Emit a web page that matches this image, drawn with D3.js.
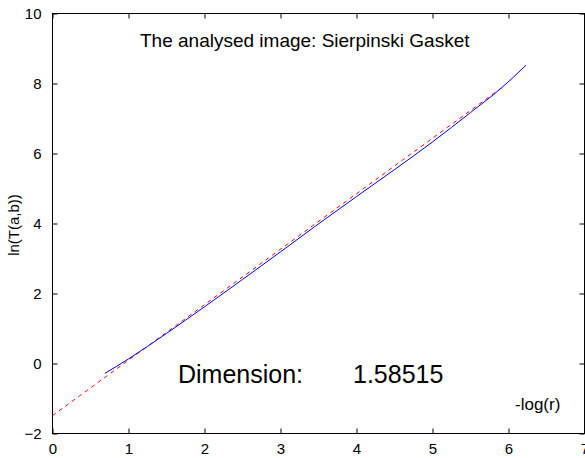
<!DOCTYPE html>
<html><head><meta charset="utf-8">
<script src="https://cdn.jsdelivr.net/npm/d3@7"></script>
<style>body{margin:0;background:#fff}svg{display:block}text{font-family:Arial,"Liberation Sans",sans-serif;fill:#000}</style>
</head><body>
<script>
const xTicks = [0,1,2,3,4,5,6,7];
const yTicks = [-2,0,2,4,6,8,10];
// measured curve: -log(r) vs ln(T(a,b))
const logR = [0.69,1.0,1.5,2.0,2.5,3.0,3.5,4.0,4.5,5.0,5.5,5.9,6.23];
const lnT  = [-0.28,0.13,0.86,1.62,2.40,3.19,3.99,4.77,5.54,6.33,7.17,7.86,8.52];
// fitted line
const slope = 1.58515;
const intercept = -1.49;
const fitX = [0, 5.94];
const titleText = "The analysed image: Sierpinski Gasket";
const dimLabel = "Dimension:";
const dimValue = "1.58515";

const W=585,H=458;
const svg=d3.select("body").append("svg").attr("width",W).attr("height",H);
const x=d3.scaleLinear().domain([0,7]).range([52.5,584.5]);
const y=d3.scaleLinear().domain([-2,10]).range([433.5,13.5]);

const g=svg.append("g");
// box
g.append("rect").attr("x",52.5).attr("y",13.5).attr("width",532).attr("height",420)
 .attr("fill","none").attr("stroke","#000").attr("stroke-width",1);

const tl=5;
// bottom axis
const xb=d3.axisBottom(x).tickValues(xTicks).tickSize(-tl).tickPadding(tl+5).tickFormat(d3.format("d"));
svg.append("g").attr("transform","translate(0,433.5)").call(xb)
 .call(s=>{s.select(".domain").remove();s.selectAll("text").attr("font-size",15).attr("font-family","Arial");});
// top ticks
svg.append("g").attr("transform","translate(0,13.5)").call(d3.axisTop(x).tickValues(xTicks).tickSize(-tl).tickFormat(""))
 .call(s=>s.select(".domain").remove());
// left axis
const yl=d3.axisLeft(y).tickValues(yTicks).tickSize(-tl).tickPadding(tl+6).tickFormat(d3.format("d"));
svg.append("g").attr("transform","translate(52.5,0)").call(yl)
 .call(s=>{s.select(".domain").remove();s.selectAll("text").attr("font-size",15).attr("font-family","Arial");});
svg.append("g").attr("transform","translate(584.5,0)").call(d3.axisRight(y).tickValues(yTicks).tickSize(-tl).tickFormat(""))
 .call(s=>s.select(".domain").remove());
svg.selectAll(".tick line").attr("stroke","#000");

// fit line (red dashed)
svg.append("path").datum(fitX)
 .attr("d",d3.line().x(d=>x(d)).y(d=>y(slope*d+intercept)))
 .attr("fill","none").attr("stroke","#ff0000").attr("stroke-width",1).attr("stroke-dasharray","4,4");
// data (blue)
svg.append("path").datum(logR.map((v,i)=>[v,lnT[i]]))
 .attr("d",d3.line().x(d=>x(d[0])).y(d=>y(d[1])).curve(d3.curveMonotoneX))
 .attr("fill","none").attr("stroke","#0000ff").attr("stroke-width",1);

// texts
svg.append("text").attr("x",140).attr("y",47).attr("font-size",19).text(titleText);
svg.append("text").attr("x",178).attr("y",383).attr("font-size",25).text(dimLabel);
svg.append("text").attr("x",353).attr("y",383).attr("font-size",25).text(dimValue);
svg.append("text").attr("x",515).attr("y",410).attr("font-size",17).text("-log(r)");
svg.append("text").attr("transform","translate(19,225) rotate(-90)").attr("text-anchor","middle")
 .attr("font-size",15).text("ln(T(a,b))");
</script>
</body></html>
